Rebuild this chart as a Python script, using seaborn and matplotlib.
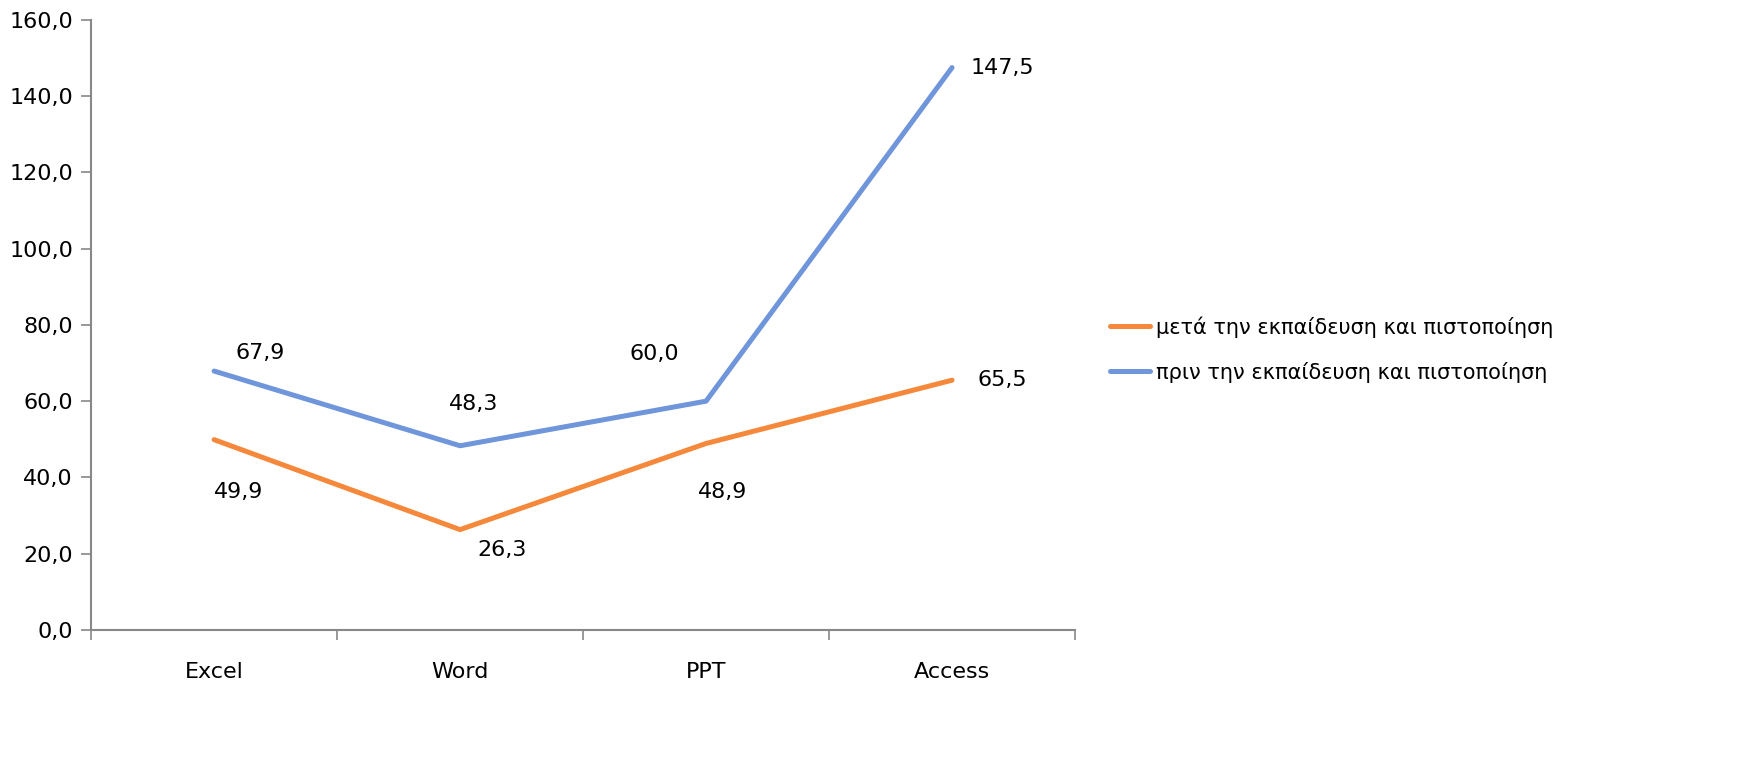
import pandas as pd
import matplotlib.pyplot as plt
import seaborn as sns
from matplotlib.ticker import FuncFormatter, FixedLocator

sns.set_theme(style="white")
plt.rcParams['font.family'] = ['DejaVu Sans']
plt.rcParams['text.color'] = 'black'

# data
categories = ['Excel', 'Word', 'PPT', 'Access']
after_label = 'μετά την εκπαίδευση και πιστοποίηση'
before_label = 'πριν την εκπαίδευση και πιστοποίηση'
after_values = [49.9, 26.3, 48.9, 65.5]
before_values = [67.9, 48.3, 60.0, 147.5]
y_ticks = [0, 20, 40, 60, 80, 100, 120, 140, 160]

colors = {after_label: '#F5883A', before_label: '#6F95DA'}

df = pd.DataFrame({
    'Category': categories * 2,
    'Value': after_values + before_values,
    'Series': [after_label] * len(categories) + [before_label] * len(categories),
})
df['x'] = df['Category'].map({c: i for i, c in enumerate(categories)})

fig = plt.figure(figsize=(17.52, 7.58), dpi=100)
ax = fig.add_axes([0.052, 0.169, 0.5616, 0.8047])

sns.lineplot(data=df, x='x', y='Value', hue='Series',
             hue_order=[after_label, before_label], palette=colors,
             linewidth=3.6, ax=ax, legend=True)

# data labels (offsets in points)
after_offsets = [(18, -38), (30, -15), (12, -35), (36, 0)]
before_offsets = [(33, 13), (10, 30), (-37, 34), (36, 0)]
for vals, offs in [(after_values, after_offsets), (before_values, before_offsets)]:
    for i, (v, off) in enumerate(zip(vals, offs)):
        ax.annotate(f"{v:.1f}".replace('.', ','), (i, v), xytext=off,
                    textcoords='offset points', ha='center', va='center',
                    fontsize=16, color='black')

ax.set_xlim(-0.5, len(categories) - 0.5)
ax.set_ylim(0, 160)
ax.set_yticks(y_ticks)
ax.yaxis.set_major_formatter(FuncFormatter(lambda v, p: f"{v:.1f}".replace('.', ',')))
ax.set_xticks(range(len(categories)))
ax.set_xticklabels(categories)
ax.xaxis.set_minor_locator(FixedLocator([i - 0.5 for i in range(len(categories) + 1)]))
ax.tick_params(axis='x', which='major', length=0, pad=23, labelsize=16, labelcolor='black')
ax.tick_params(axis='x', which='minor', length=7, width=1.2, color='#888888', direction='out', bottom=True)
ax.tick_params(axis='y', length=7, width=1.2, color='#888888', direction='out', left=True,
               labelsize=16, pad=6, labelcolor='black')
ax.set_xlabel('')
ax.set_ylabel('')
ax.grid(False)
for side in ['top', 'right']:
    ax.spines[side].set_visible(False)
for side in ['left', 'bottom']:
    ax.spines[side].set_color('#888888')
    ax.spines[side].set_linewidth(1.5)

handles, labels = ax.get_legend_handles_labels()
leg = ax.legend(handles, labels, loc='center left', bbox_to_anchor=(0.623, 0.539),
                bbox_transform=fig.transFigure, frameon=False, fontsize=15,
                handlelength=1.9, handletextpad=0.3, labelspacing=1.15)
for t in leg.get_texts():
    t.set_color('black')

fig.savefig('out.png', dpi=100)
